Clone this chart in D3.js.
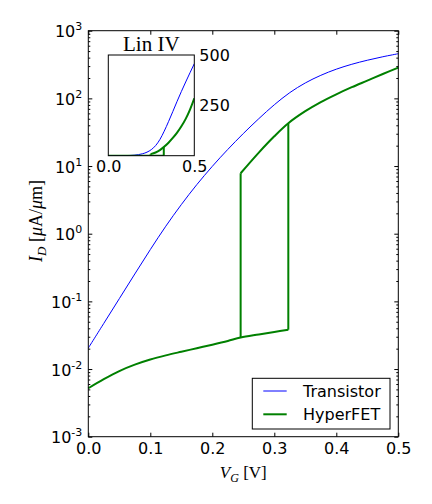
<!DOCTYPE html>
<html>
<head>
<meta charset="utf-8">
<script src="https://cdn.jsdelivr.net/npm/d3@7"></script>
<style>
  body { margin: 0; background: #fff; }
  svg { font-family: "DejaVu Sans", sans-serif; }
  .serif { font-family: "Liberation Serif", "DejaVu Serif", serif; }
</style>
</head>
<body>
<svg width="432" height="504"></svg>
<script>
// transistor I-V (V, uA/um)
var transistorV = [0, 0.025, 0.05, 0.075, 0.1, 0.125, 0.15, 0.175, 0.2, 0.225, 0.25,
                   0.275, 0.3, 0.325, 0.35, 0.375, 0.4, 0.425, 0.45, 0.475, 0.5];
var transistorI = [0.0204, 0.0473, 0.1096, 0.254, 0.582, 1.29, 2.69, 5.31, 9.89, 17.6, 30.2,
                   50.1, 80.4, 121.6, 169, 219, 270, 319, 366, 412, 457];

// hyperFET low branch (insulating) and high branch (metallic)
var lowV = [0, 0.025, 0.05, 0.075, 0.1, 0.125, 0.15, 0.175, 0.2, 0.225, 0.2457, 0.275, 0.3, 0.3226];
var lowI = [0.0052, 0.00708, 0.00933, 0.0116, 0.0138, 0.0159, 0.018, 0.0203, 0.0229, 0.026, 0.0292, 0.0324, 0.0353, 0.0381];
var highV = [0.2457, 0.275, 0.3, 0.3226, 0.35, 0.375, 0.4, 0.425, 0.45, 0.475, 0.5];
var highI = [7.82, 15.8, 27.5, 42.9, 64.6, 88.1, 114.8, 146.2, 182.8, 229, 285];

var xTicks = [0, 0.1, 0.2, 0.3, 0.4, 0.5];
var yDecades = [-3, -2, -1, 0, 1, 2, 3];
var legendNames = ["Transistor", "HyperFET"];
var insetXTicks = [0, 0.5];
var insetYTicks = [250, 500];

var blue = "#0000ff", green = "#008000";
var svg = d3.select("svg");

var pLeft = 88.3, pRight = 398.3, pTop = 30.7, pBottom = 436.7;
var x = d3.scaleLinear().domain([0, 0.5]).range([pLeft, pRight]);
var y = d3.scaleLog().domain([1e-3, 1e3]).range([pBottom, pTop]);

function zip(vs, is) {
    return vs.map(function(v, k){ return {v: v, i: is[k]}; });
}
var transistor = zip(transistorV, transistorI);
var low = zip(lowV, lowI);
var high = zip(highV, highI);
// the two jumps of the hysteresis loop
var jumpUp = [low[low.length - 1], high[3]];
var jumpDown = [high[0], low[10]];

var majorVals = yDecades.map(function(d){ return Math.pow(10, d); });
var minorVals = [];
yDecades.slice(0, -1).forEach(function(d){
    for (var m = 2; m < 10; m++) minorVals.push(m * Math.pow(10, d));
});

function fmtTicks(g) {
    g.select(".domain").remove();
    g.selectAll("line").attr("stroke", "#000");
    g.selectAll("text").attr("font-size", 16).attr("fill", "#000").attr("font-family", "DejaVu Sans");
}

// main axes, ticks pointing inward on all four sides
svg.append("g").attr("transform", "translate(0," + pBottom + ")")
    .call(d3.axisBottom(x).tickValues(xTicks).tickSize(-4).tickPadding(6).tickFormat(d3.format(".1f")))
    .call(fmtTicks);
svg.append("g").attr("transform", "translate(0," + pTop + ")")
    .call(d3.axisTop(x).tickValues(xTicks).tickSize(-4).tickFormat(""))
    .call(fmtTicks);

var yl = svg.append("g").attr("transform", "translate(" + pLeft + ",0)")
    .call(d3.axisLeft(y).tickValues(majorVals).tickSize(-4).tickPadding(6))
    .call(fmtTicks);
yl.selectAll(".tick text").each(function(d){
    var t = d3.select(this).text("").attr("dy", null).attr("y", 6);
    t.append("tspan").text("10");
    t.append("tspan").attr("dy", -7).attr("font-size", 11).text(String(Math.round(Math.log10(d))));
});
svg.append("g").attr("transform", "translate(" + pLeft + ",0)")
    .call(d3.axisLeft(y).tickValues(minorVals).tickSize(-2).tickFormat(""))
    .call(fmtTicks);
svg.append("g").attr("transform", "translate(" + pRight + ",0)")
    .call(d3.axisRight(y).tickValues(majorVals).tickSize(-4).tickFormat(""))
    .call(fmtTicks);
svg.append("g").attr("transform", "translate(" + pRight + ",0)")
    .call(d3.axisRight(y).tickValues(minorVals).tickSize(-2).tickFormat(""))
    .call(fmtTicks);

// curves
var line = d3.line().x(function(d){ return x(d.v); }).y(function(d){ return y(d.i); })
    .curve(d3.curveCatmullRom.alpha(0.5));
var straight = d3.line().x(function(d){ return x(d.v); }).y(function(d){ return y(d.i); });

svg.append("path").datum(transistor).attr("d", line)
    .attr("fill", "none").attr("stroke", blue).attr("stroke-width", 1);
[low, high].forEach(function(b){
    svg.append("path").datum(b).attr("d", line)
        .attr("fill", "none").attr("stroke", green).attr("stroke-width", 2);
});
[jumpUp, jumpDown].forEach(function(b){
    svg.append("path").datum(b).attr("d", straight)
        .attr("fill", "none").attr("stroke", green).attr("stroke-width", 2);
});

svg.append("rect").attr("x", pLeft).attr("y", pTop)
    .attr("width", pRight - pLeft).attr("height", pBottom - pTop)
    .attr("fill", "none").attr("stroke", "#000").attr("stroke-width", 1);

// axis labels
var xl = svg.append("text").attr("class", "serif").attr("x", (pLeft + pRight) / 2).attr("y", 478)
    .attr("text-anchor", "middle").attr("font-size", 17);
xl.append("tspan").attr("font-style", "italic").text("V");
xl.append("tspan").attr("font-style", "italic").attr("font-size", 12).attr("dy", 4).text("G");
xl.append("tspan").attr("dy", -4).text(" [V]");

var ylab = svg.append("text").attr("class", "serif")
    .attr("transform", "translate(42,221) rotate(-90)")
    .attr("text-anchor", "middle").attr("font-size", 18);
ylab.append("tspan").attr("font-style", "italic").text("I");
ylab.append("tspan").attr("font-style", "italic").attr("font-size", 13).attr("dy", 4).text("D");
ylab.append("tspan").attr("dy", -4).text(" [");
ylab.append("tspan").attr("font-style", "italic").text("\u03bc");
ylab.append("tspan").text("A/");
ylab.append("tspan").attr("font-style", "italic").text("\u03bc");
ylab.append("tspan").text("m]");

// legend
var lg = svg.append("g");
lg.append("rect").attr("x", 252.3).attr("y", 378.3).attr("width", 137.7).attr("height", 50.7)
    .attr("fill", "#fff").attr("stroke", "#000").attr("stroke-width", 1);
legendNames.forEach(function(name, k){
    var cy = 391 + k * 23.3;
    lg.append("line").attr("x1", 263.3).attr("x2", 286.7).attr("y1", cy).attr("y2", cy)
        .attr("stroke", k ? green : blue).attr("stroke-width", k ? 2 : 1);
    lg.append("text").attr("x", 303).attr("y", cy + 6).attr("font-size", 16).text(name);
});

// inset with linear IV
var il = 108.3, ir = 194.3, it = 55, ib = 155.7;
var ix = d3.scaleLinear().domain([0, 0.5]).range([il, ir]);
var iy = d3.scaleLinear().domain([0, 500]).range([ib, it]);
var inset = svg.append("g");
inset.append("rect").attr("x", il).attr("y", it).attr("width", ir - il).attr("height", ib - it)
    .attr("fill", "#fff");
svg.append("clipPath").attr("id", "insetclip").append("rect")
    .attr("x", il).attr("y", it).attr("width", ir - il).attr("height", ib - it);

var iline = d3.line().x(function(d){ return ix(d.v); }).y(function(d){ return iy(d.i); })
    .curve(d3.curveMonotoneX);
var istraight = d3.line().x(function(d){ return ix(d.v); }).y(function(d){ return iy(d.i); });
var ic = inset.append("g").attr("clip-path", "url(#insetclip)");
ic.append("path").datum(transistor).attr("d", iline)
    .attr("fill", "none").attr("stroke", blue).attr("stroke-width", 1);
[low, high].forEach(function(b){
    ic.append("path").datum(b).attr("d", iline)
        .attr("fill", "none").attr("stroke", green).attr("stroke-width", 2);
});
[jumpUp, jumpDown].forEach(function(b){
    ic.append("path").datum(b).attr("d", istraight)
        .attr("fill", "none").attr("stroke", green).attr("stroke-width", 2);
});
inset.append("rect").attr("x", il).attr("y", it).attr("width", ir - il).attr("height", ib - it)
    .attr("fill", "none").attr("stroke", "#000").attr("stroke-width", 1);

inset.append("g").attr("transform", "translate(0," + ib + ")")
    .call(d3.axisBottom(ix).tickValues(insetXTicks).tickSize(0).tickPadding(5).tickFormat(d3.format(".1f")))
    .call(fmtTicks);
inset.append("g").attr("transform", "translate(" + ir + ",0)")
    .call(d3.axisRight(iy).tickValues(insetYTicks).tickSize(0).tickPadding(5))
    .call(fmtTicks);

inset.append("text").attr("class", "serif").attr("x", (il + ir) / 2).attr("y", 50.5)
    .attr("text-anchor", "middle").attr("font-size", 21).text("Lin IV");
</script>
</body>
</html>
